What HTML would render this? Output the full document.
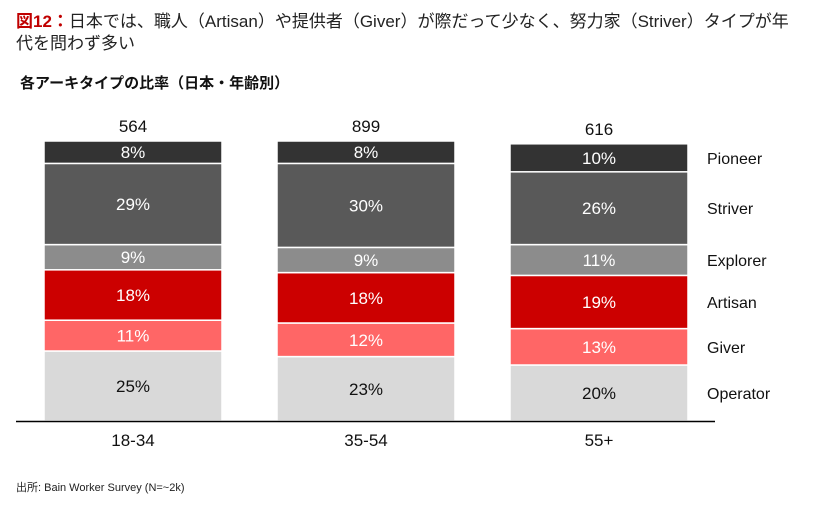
<!DOCTYPE html>
<html><head><meta charset="utf-8"><style>
body{margin:0;background:#fff;width:835px;height:513px;overflow:hidden;font-family:"Liberation Sans","Noto Sans CJK JP",sans-serif;}
</style></head><body>
<svg width="835" height="513" xmlns="http://www.w3.org/2000/svg" id="chart">
<text x="16" y="27" font-size="17" fill="#222"><tspan fill="#c00000" font-weight="bold">図12：</tspan>日本では、職人（Artisan）や提供者（Giver）が際だって少なく、努力家（Striver）タイプが年</text>
<text x="16" y="49" font-size="17" fill="#222">代を問わず多い</text>
<text x="20" y="88" font-size="15" font-weight="bold" fill="#111">各アーキタイプの比率（日本・年齢別）</text>
<g id="bars"></g>
<line x1="16" y1="421.5" x2="715" y2="421.5" stroke="#000" stroke-width="1.5"/>
<text x="16" y="491" font-size="11" fill="#222">出所: Bain Worker Survey (N=~2k)</text>
</svg>
<script>
const categories=["18-34","35-54","55+"];
const totals=["564","899","616"];
const seriesNames=["Operator","Giver","Artisan","Explorer","Striver","Pioneer"];
const operator=[25,23,20];
const giver=[11,12,13];
const artisan=[18,18,19];
const explorer=[9,9,11];
const striver=[29,30,26];
const pioneer=[8,8,10];
const series=[operator,giver,artisan,explorer,striver,pioneer];
const colors=["#d9d9d9","#ff6666","#cc0000","#8c8c8c","#595959","#333333"];
const textColors=["#111","#fff","#fff","#fff","#fff","#fff"];
const baseY=421, pxPer=2.8, barW=178;
const x=i=>44+i*233;
const y=v=>baseY-v*pxPer;
const ns="http://www.w3.org/2000/svg";
const g=document.getElementById("bars");
function mk(tag,attrs){const e=document.createElementNS(ns,tag);for(const k in attrs)e.setAttribute(k,attrs[k]);return e;}
categories.forEach((c,i)=>{
  let cum=0;
  series.forEach((s,j)=>{
    const v=s[i];
    const r=mk("rect",{x:x(i),y:y(cum+v),width:barW,height:v*pxPer,fill:colors[j],stroke:"#fff","stroke-width":1.5});
    
    
    g.appendChild(r);
    const t=mk("text",{x:x(i)+barW/2,y:y(cum+v/2)+6,"text-anchor":"middle","font-size":17,fill:textColors[j]});
    t.textContent=v+"%";
    
    
    g.appendChild(t);
    cum+=v;
  });
  const tt=mk("text",{x:x(i)+barW/2,y:y(cum)-9,"text-anchor":"middle","font-size":17,fill:"#111"});
  tt.textContent=totals[i];
  
  
  g.appendChild(tt);
  const xl=mk("text",{x:x(i)+barW/2,y:446,"text-anchor":"middle","font-size":17,fill:"#111"});
  xl.textContent=c;
  
  
  g.appendChild(xl);
});
let cum=0;
series.forEach((s,j)=>{
  const v=s[2];
  const t=mk("text",{x:707,y:y(cum+v/2)+6,"font-size":16,fill:"#111"});
  t.textContent=seriesNames[j];
  
  
  g.appendChild(t);
  cum+=v;
});
</script>
</body></html>
